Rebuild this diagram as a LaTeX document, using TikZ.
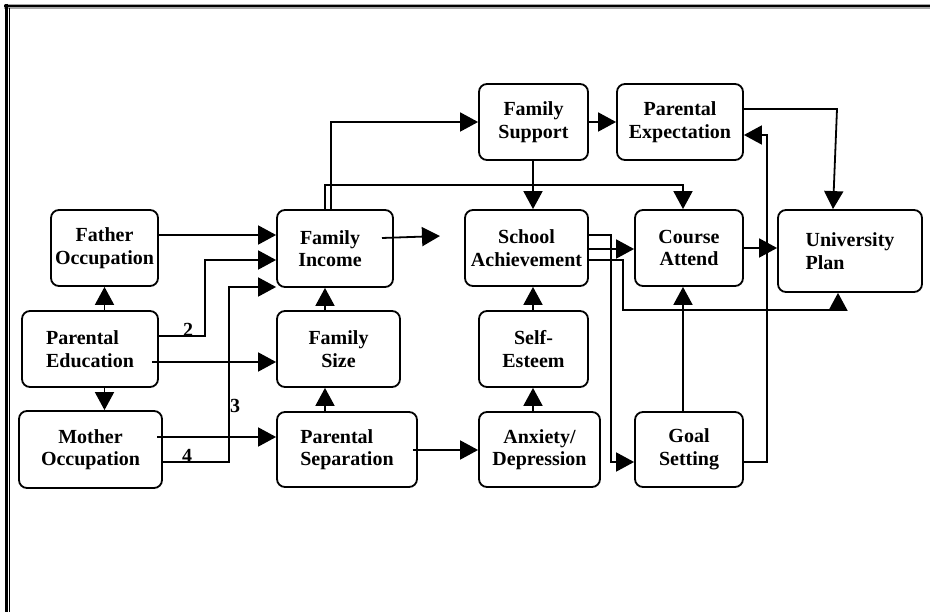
\documentclass[tikz,border=0pt]{standalone}
\usepackage{fontspec}
\setmainfont{Liberation Serif}
\usetikzlibrary{arrows.meta}
\begin{document}
\begin{tikzpicture}[x=1pt,y=-1pt,
  box/.style={draw, line width=1.8pt, rounded corners=8pt, inner sep=0pt,
    font=\fontsize{20}{22.5}\selectfont\bfseries, align=center},
  lbl/.style={inner sep=0pt, font=\fontsize{20}{22}\selectfont\bfseries},
  conn/.style={line width=1.8pt},
  arr/.style={conn, -{Triangle[length=18pt,width=19pt]}}]
\useasboundingbox (0,0) rectangle (930,612);
% frame
\draw[line width=5pt, gray!70] (4,6.5) -- (930,6.5);
\draw[line width=2pt, black] (4,6.5) -- (930,6.5);
\draw[line width=3pt] (6.5,4) -- (6.5,612);
\draw[line width=1pt] (9.5,8) -- (9.5,612);
% boxes
\node[box, minimum width=107pt, minimum height=76pt] (fo) at (104.5,248) {Father\\Occupation};
\node[box, minimum width=136pt, minimum height=76pt, align=left] (pe) at (90,349) {Parental\\Education};
\node[box, minimum width=143pt, minimum height=77pt] (mo) at (90.5,449.5) {Mother\\Occupation};
\node[box, minimum width=116pt, minimum height=77pt] (fi) at (335,248.5) {\hspace*{-10pt}Family\\\hspace*{-10pt}Income};
\node[box, minimum width=123pt, minimum height=76pt] (fs) at (338.5,349) {Family\\Size};
\node[box, minimum width=140pt, minimum height=75pt, align=left] (ps) at (347,449.5) {Parental\\Separation};
\node[box, minimum width=109pt, minimum height=76pt] (fsup) at (533.5,122) {Family\\Support};
\node[box, minimum width=123pt, minimum height=76pt] (sa) at (526.5,248) {School\\Achievement};
\node[box, minimum width=109pt, minimum height=76pt] (se) at (533.5,349) {Self-\\Esteem};
\node[box, minimum width=121pt, minimum height=75pt] (ad) at (539.5,449.5) {Anxiety/\\Depression};
\node[box, minimum width=126pt, minimum height=76pt] (pex) at (680,122) {Parental\\Expectation};
\node[box, minimum width=108pt, minimum height=76pt] (ca) at (689,248) {Course\\Attend};
\node[box, minimum width=144pt, minimum height=82pt, align=left] (up) at (850,251) {University\\Plan};
\node[box, minimum width=108pt, minimum height=75pt] (gs) at (689,449.5) {Goal\\Setting};
% labels
\node[lbl] (l2) at (188,330) {2};
\node[lbl] (l3) at (235,406) {3};
\node[lbl] (l4) at (187,456) {4};
\coordinate (fiend) at (440,236);
% connectors
\draw[arr] (fo.east |- 0,235) -- (fi.west |- 0,235);
\draw[arr] (pe.east |- 0,336) -| (205,260) -- (fi.west |- 0,260);
\draw[arr] (mo.east |- 0,462) -| (229,287) -- (fi.west |- 0,287);
\draw[arr] (152,362) -- (fs.west |- 0,362);
\draw[arr] (fo |- pe.north) -- (fo.south);
\draw[arr] (fo |- pe.south) -- (fo |- mo.north);
\draw[arr] (157,437) -- (ps.west |- 0,437);
\draw[arr] (ps.north -| 325,0) -- (fs.south -| 325,0);
\draw[arr] (fs.north -| 325,0) -- (fi.south -| 325,0);
\draw[arr] (382,238) -- (fiend);
\draw[arr] (fi.north -| 331,0) |- (fsup.west);
\draw[arr] (fi.north -| 325,0) |- (683,185) -- (ca.north -| 683,0);
\draw[arr] (fsup.south -| 533,0) -- (sa.north -| 533,0);
\draw[arr] (fsup.east) -- (pex.west);
\draw[arr] (pex.east |- 0,109) -- (837,109) -- (up.north -| 833,0);
\draw[arr] (gs.east |- 0,462) -| (767,135) -- (pex.east |- 0,135);
\draw[arr] (gs.north -| 683,0) -- (ca.south -| 683,0);
\draw[arr] (sa.east |- 0,249) -- (ca.west |- 0,249);
\draw[arr] (sa.east |- 0,260) -| (623,310) -| (up.south -| 838,0);
\draw[arr] (sa.east |- 0,235) -| (611,462) -- (gs.west |- 0,462);
\draw[arr] (413,450) -- (ad.west |- 0,450);
\draw[arr] (ad.north -| 533,0) -- (se.south -| 533,0);
\draw[arr] (se.north -| 533,0) -- (sa.south -| 533,0);
\draw[arr] (ca.east |- 0,248) -- (up.west |- 0,248);
\end{tikzpicture}
\end{document}
